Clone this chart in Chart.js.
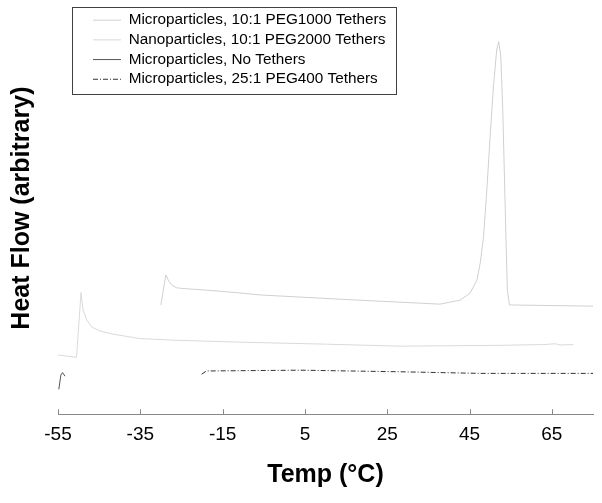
<!DOCTYPE html>
<html>
<head>
<meta charset="utf-8">
<script src="https://cdn.jsdelivr.net/npm/chart.js@4"></script>
<style>
  html, body { margin: 0; padding: 0; background: #fff; }
</style>
</head>
<body>
<canvas id="myChart" width="602" height="503"></canvas>
<script>
// series names (legend order)
const seriesNames = [
  'Microparticles, 10:1 PEG1000 Tethers',
  'Nanoparticles, 10:1 PEG2000 Tethers',
  'Microparticles, No Tethers',
  'Microparticles, 25:1 PEG400 Tethers'
];

// x axis ticks
const xTickValues = [-55, -35, -15, 5, 25, 45, 65];
const xTickLabels = ['-55', '-35', '-15', '5', '25', '45', '65'];

// Microparticles, 10:1 PEG1000 (arbitrary heat flow units)
const peg1000Temp = [-30.0, -28.8, -28.2, -27.4, -26.2, -24.6, -18.9, -10.8, -5.9, 16.0, 37.8, 42.7, 45.1, 46.8, 47.6, 48.4, 49.2, 50.0, 50.8, 51.6, 52.1, 52.6, 53.1, 53.5, 53.9, 54.2, 54.7, 75.0];
const peg1000Flow = [27.3, 34.8, 33.5, 32.3, 31.6, 31.4, 31.0, 30.3, 29.8, 28.6, 27.5, 28.5, 30.2, 33.5, 37.8, 44.3, 56.0, 69.3, 81.8, 91.0, 93.1, 89.3, 75.2, 58.5, 41.8, 31.0, 27.3, 27.0];

// Nanoparticles, 10:1 PEG2000
const peg2000Temp = [-55.0, -50.5, -49.4, -48.9, -48.0, -46.8, -44.8, -41.6, -35.1, -27.0, -10.8, 10.0, 28.1, 51.7, 63.0, 65.8, 67.0, 70.2];
const peg2000Flow = [14.8, 14.2, 30.4, 26.0, 23.5, 21.8, 20.8, 20.0, 18.9, 18.5, 18.0, 17.5, 17.0, 17.2, 17.4, 17.6, 17.3, 17.4];

// Microparticles, no tethers
const noTetherTemp = [-54.8, -54.3, -53.9, -53.3];
const noTetherFlow = [6.2, 9.8, 10.4, 9.5];

// Microparticles, 25:1 PEG400
const peg400Temp = [-20.1, -18.9, 3.8, 28.1, 47.5, 75.0];
const peg400Flow = [10.0, 10.8, 11.0, 10.6, 10.2, 10.2];

const toPoints = (xs, ys) => xs.map((x, i) => ({x: x, y: ys[i]}));

const fontFamily = '"Liberation Sans", Arial, sans-serif';

// draws the small inward tick marks and the legend frame
const extras = {
  id: 'extras',
  afterLayout(chart) {
    const lg = chart.legend;
    const pad = lg.options.labels.padding;
    lg.left = 93 - pad;
    lg.top = 12.5 - pad;
  },
  afterDraw(chart) {
    const ctx = chart.ctx;
    const xs = chart.scales.x;
    ctx.save();
    ctx.strokeStyle = '#888888';
    ctx.lineWidth = 1;
    xs.ticks.forEach(t => {
      const px = Math.round(xs.getPixelForValue(t.value)) + 0.5;
      ctx.beginPath();
      ctx.moveTo(px, xs.top);
      ctx.lineTo(px, xs.top - 5);
      ctx.stroke();
    });
    const lg = chart.legend;
    const pad = lg.options.labels.padding;
    const col = lg.columnSizes[0];
    const x0 = lg.left + pad - 21;
    const y0 = lg.top + pad - 5.5;
    ctx.strokeStyle = '#404040';
    ctx.strokeRect(Math.round(x0) + 0.5, Math.round(y0) + 0.5, Math.round(col.width + 31), Math.round(col.height - pad + 13));
    ctx.restore();
  }
};

new Chart(document.getElementById('myChart'), {
  type: 'line',
  data: {
    datasets: [{
      label: seriesNames[0],
      data: toPoints(peg1000Temp, peg1000Flow),
      borderColor: '#d0d0d0',
      backgroundColor: '#d0d0d0',
      borderWidth: 1
    }, {
      label: seriesNames[1],
      data: toPoints(peg2000Temp, peg2000Flow),
      borderColor: '#dadada',
      backgroundColor: '#dadada',
      borderWidth: 1
    }, {
      label: seriesNames[2],
      data: toPoints(noTetherTemp, noTetherFlow),
      borderColor: '#555555',
      backgroundColor: '#555555',
      borderWidth: 1
    }, {
      label: seriesNames[3],
      data: toPoints(peg400Temp, peg400Flow),
      borderColor: '#333333',
      backgroundColor: '#333333',
      borderWidth: 1,
      borderDash: [5, 2, 1, 2]
    }]
  },
  options: {
    responsive: false,
    animation: false,
    layout: { padding: { left: 4, right: 9, top: 2, bottom: 0 } },
    elements: { point: { radius: 0 }, line: { tension: 0 } },
    plugins: {
      tooltip: { enabled: false },
      legend: {
        position: 'chartArea',
        align: 'start',
        labels: {
          usePointStyle: true,
          pointStyle: 'line',
          pointStyleWidth: 28,
          padding: 4.4,
          color: '#000',
          font: { family: fontFamily, size: 15.3 },
          generateLabels: chart => {
            const items = Chart.defaults.plugins.legend.labels.generateLabels(chart);
            items.forEach(it => {
              const ds = chart.data.datasets[it.datasetIndex];
              it.lineDash = ds.borderDash || [];
              it.strokeStyle = ds.borderColor;
            });
            return items;
          }
        }
      }
    },
    scales: {
      x: {
        type: 'linear',
        min: -55,
        max: 75,
        afterBuildTicks: s => { s.ticks = xTickValues.map(v => ({value: v})); },
        grid: { display: false, drawTicks: false },
        border: { display: true, color: '#888888', width: 1 },
        ticks: {
          autoSkip: false,
          maxRotation: 0,
          padding: 9,
          color: '#000',
          font: { family: fontFamily, size: 19 },
          callback: (v, i) => xTickLabels[i]
        },
        title: {
          display: true,
          text: 'Temp (°C)',
          color: '#000',
          font: { family: fontFamily, size: 25, weight: 'bold' },
          padding: { top: 5, bottom: 13 }
        }
      },
      y: {
        min: 0,
        max: 103,
        grid: { display: false, drawTicks: false },
        border: { display: false },
        ticks: { display: false },
        title: {
          display: true,
          text: 'Heat Flow (arbitrary)',
          color: '#000',
          font: { family: fontFamily, size: 25, weight: 'bold' },
          padding: { top: 3, bottom: 21 }
        }
      }
    }
  },
  plugins: [extras]
});
</script>
</body>
</html>
